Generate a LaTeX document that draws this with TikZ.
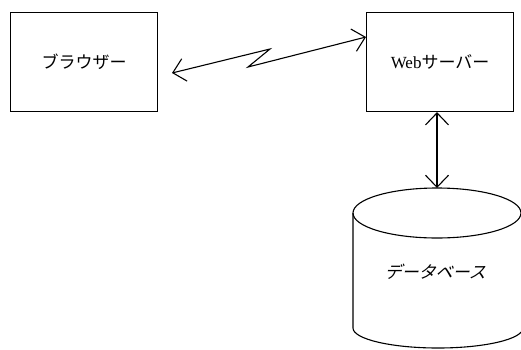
\documentclass[tikz,border=0pt]{standalone}
\usepackage{fontspec}
\setmainfont{Liberation Serif}
\newfontfamily\jp{Noto Sans CJK JP}
\usetikzlibrary{arrows.meta}
\begin{document}
\begin{tikzpicture}[x=1pt,y=-1pt,
  line width=1.1pt,
  box/.style={draw, minimum width=147pt, minimum height=99pt, inner sep=0pt, anchor=north west, font=\fontsize{17}{20}\selectfont},
  tip/.style={{Straight Barb[length=12pt,width=23pt,line width=1.1pt]}-{Straight Barb[length=12pt,width=23pt,line width=1.1pt]}}]
\useasboundingbox (0,0) rectangle (521,349);
\clip (0,0) rectangle (521,349);
\node[box] (browser) at (10,12) {\jp ブラウザー};
\node[box] (web) at (366,12) {Web\jp サーバー};
% cylinder
\draw (353,213) -- (353,328) arc[start angle=180, end angle=0, x radius=85, y radius=20] -- (523,213);
\draw (437,213) ellipse[x radius=84, y radius=25];
\coordinate (dbtop) at (437,188);
\node[font=\fontsize{17}{20}\selectfont, xslant=0.3] (db) at (437,272) {\jp データベース};
% connectors
\coordinate (zl) at (172,73);
\coordinate (z1) at (270,49);
\coordinate (z2) at (248,67);
\coordinate (zr) at (web.west |- 0,37);
\draw[tip] (zl) -- (z1) -- (z2) -- (zr);
\draw[tip] (web.south -| dbtop) -- (dbtop);
\end{tikzpicture}
\end{document}
